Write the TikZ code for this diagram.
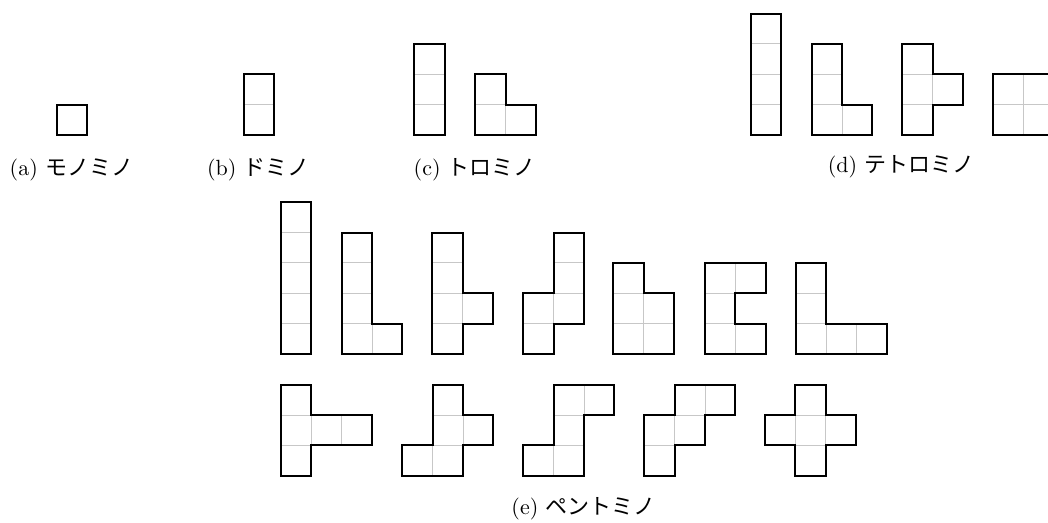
\documentclass[tikz,border=0pt]{standalone}
\usepackage{fontspec}
\newfontfamily\jp{Noto Sans CJK JP}
\newcommand\polyo[4]{%
  \begin{scope}[shift={(#1pt,#2pt)},x=30.35pt,y=30.35pt]
    \foreach \i/\j in {#3} \draw[cellgrid] (\i,\j) rectangle ++(1,1);
    \draw[outline] #4;
  \end{scope}}
\begin{document}
\begin{tikzpicture}[x=1pt,y=1pt,
  cellgrid/.style={draw=black!22, line width=0.9pt},
  outline/.style={draw=black, line width=2pt, line join=miter},
  captext/.style={anchor=base west, inner sep=0pt, scale=2.2}]
\useasboundingbox (0,0) rectangle (1048,522);
\clip (0,0) rectangle (1048,522);
% (a) monomino
\polyo{57}{387}{0/0}{(0,0) rectangle (1,1)}
% (b) domino
\polyo{243.5}{387}{0/0,0/1}{(0,0) rectangle (1,2)}
% (c) trominoes
\polyo{414.3}{387}{0/0,0/1,0/2}{(0,0) rectangle (1,3)}
\polyo{475.2}{387}{0/0,1/0,0/1}{(0,0)--(2,0)--(2,1)--(1,1)--(1,2)--(0,2)--cycle}
% (d) tetrominoes
\polyo{751}{387}{0/0,0/1,0/2,0/3}{(0,0) rectangle (1,4)}
\polyo{811.7}{387}{0/0,0/1,0/2,1/0}{(0,0)--(2,0)--(2,1)--(1,1)--(1,3)--(0,3)--cycle}
\polyo{902.3}{387}{0/0,0/1,0/2,1/1}{(0,0)--(1,0)--(1,1)--(2,1)--(2,2)--(1,2)--(1,3)--(0,3)--cycle}
\polyo{993}{387}{0/0,1/0,0/1,1/1}{(0,0) rectangle (2,2)}
% (e) pentominoes, row 1
\polyo{281}{168}{0/0,0/1,0/2,0/3,0/4}{(0,0) rectangle (1,5)}
\polyo{341.7}{168}{0/0,0/1,0/2,0/3,1/0}{(0,0)--(2,0)--(2,1)--(1,1)--(1,4)--(0,4)--cycle}
\polyo{432.3}{168}{0/0,0/1,0/2,0/3,1/1}{(0,0)--(1,0)--(1,1)--(2,1)--(2,2)--(1,2)--(1,4)--(0,4)--cycle}
\polyo{523.3}{168}{0/0,0/1,1/1,1/2,1/3}{(0,0)--(1,0)--(1,1)--(2,1)--(2,4)--(1,4)--(1,2)--(0,2)--cycle}
\polyo{613.3}{168}{0/0,0/1,0/2,1/0,1/1}{(0,0)--(2,0)--(2,2)--(1,2)--(1,3)--(0,3)--cycle}
\polyo{705}{168}{0/0,0/1,0/2,1/0,1/2}{(0,0)--(2,0)--(2,1)--(1,1)--(1,2)--(2,2)--(2,3)--(0,3)--cycle}
\polyo{795.7}{168}{0/0,0/1,0/2,1/0,2/0}{(0,0)--(3,0)--(3,1)--(1,1)--(1,3)--(0,3)--cycle}
% (e) pentominoes, row 2
\polyo{281}{46.3}{0/0,0/1,0/2,1/1,2/1}{(0,0)--(1,0)--(1,1)--(3,1)--(3,2)--(1,2)--(1,3)--(0,3)--cycle}
\polyo{402.3}{46.3}{0/0,1/0,1/1,1/2,2/1}{(0,0)--(2,0)--(2,1)--(3,1)--(3,2)--(2,2)--(2,3)--(1,3)--(1,1)--(0,1)--cycle}
\polyo{523.3}{46.3}{0/0,1/0,1/1,1/2,2/2}{(0,0)--(2,0)--(2,2)--(3,2)--(3,3)--(1,3)--(1,1)--(0,1)--cycle}
\polyo{644.3}{46.3}{0/0,0/1,1/1,1/2,2/2}{(0,0)--(1,0)--(1,1)--(2,1)--(2,2)--(3,2)--(3,3)--(1,3)--(1,2)--(0,2)--cycle}
\polyo{765}{46.3}{1/0,0/1,1/1,2/1,1/2}{(1,0)--(2,0)--(2,1)--(3,1)--(3,2)--(2,2)--(2,3)--(1,3)--(1,2)--(0,2)--(0,1)--(1,1)--cycle}
% captions
\node[captext] (capa) at (9.3,346) {(a) {\jp モノミノ}};
\node[captext] (capb) at (206.7,346) {(b) {\jp ドミノ}};
\node[captext] (capc) at (413.3,346) {(c) {\jp トロミノ}};
\node[captext] (capd) at (827.3,349.5) {(d) {\jp テトロミノ}};
\node[captext] (cape) at (511,8) {(e) {\jp ペントミノ}};
\end{tikzpicture}
\end{document}
